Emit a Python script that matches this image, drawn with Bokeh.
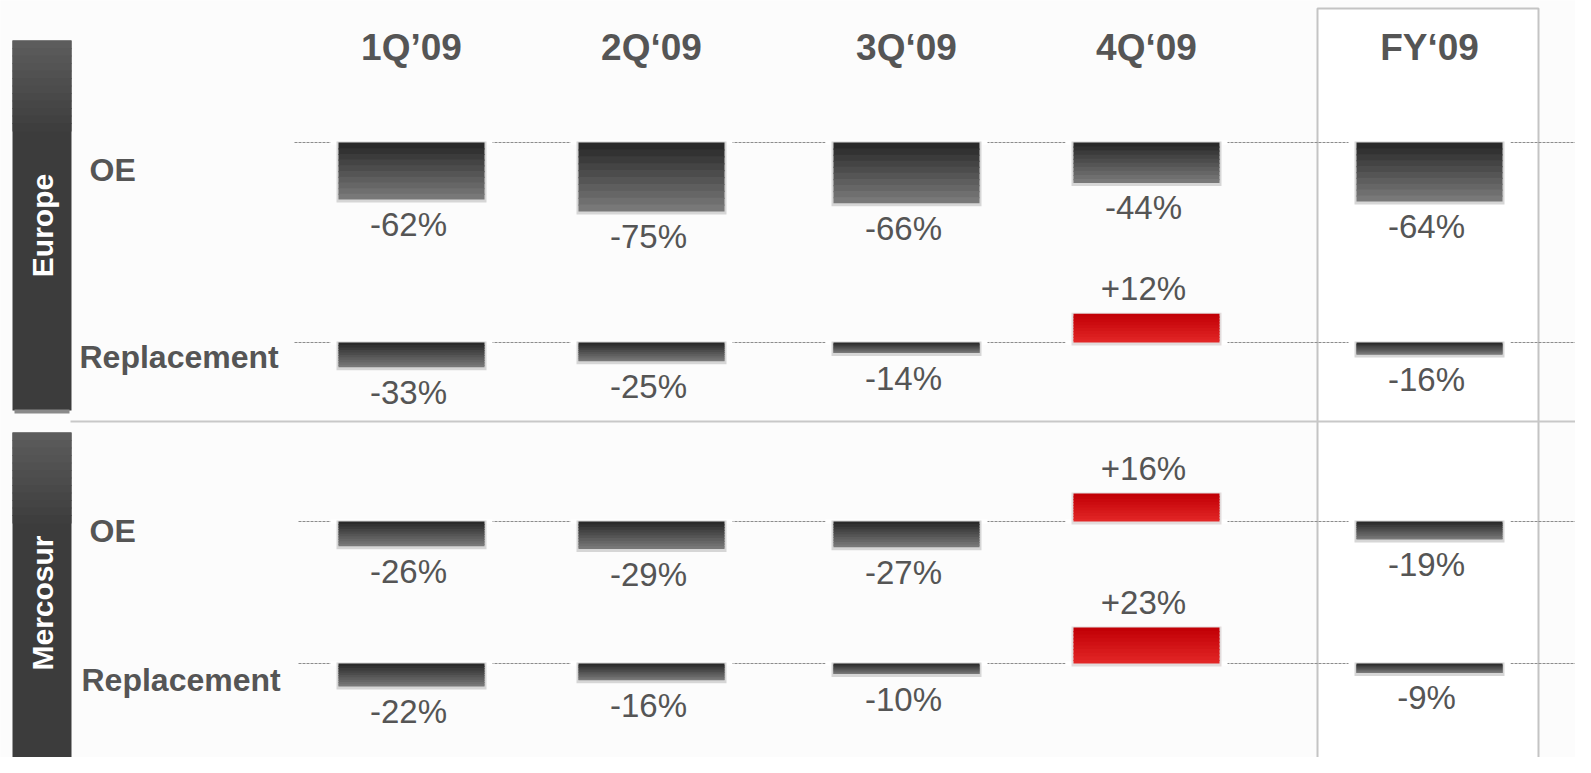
from bokeh.plotting import figure
from bokeh.models import Range1d, ColumnDataSource
from bokeh.embed import file_html
from bokeh.resources import INLINE
from bokeh.core.properties import value

# ---------------- data ----------------
periods = ["1Q’09", "2Q‘09", "3Q‘09", "4Q‘09", "FY‘09"]
regions = ["Europe", "Mercosur"]
segments = ["OE", "Replacement"]
europe_oe = [-62, -75, -66, -44, -64]
europe_rep = [-33, -25, -14, 12, -16]
mercosur_oe = [-26, -29, -27, 16, -19]
mercosur_rep = [-22, -16, -10, 23, -9]

# ---------------- layout (screen px) ----------------
W, H = 1575, 757
col_x = [411, 651, 906, 1146, 1429]
bar_w = 146
rows = [
    # (values, baseline y, neg px per %, pos px per %, label y, label x, line start)
    (europe_oe, 142, 0.92, 2.0, 169, 89, 294),
    (europe_rep, 342, 0.75, 2.4, 356, 79, 294),
    (mercosur_oe, 521, 0.95, 1.75, 530, 89, 298),
    (mercosur_rep, 663, 1.05, 1.57, 679, 81, 298),
]

p = figure(width=W, height=H, output_backend="svg", toolbar_location=None,
           x_range=Range1d(0, W), y_range=Range1d(H, 0),
           min_border=0, background_fill_color="#fcfcfc", border_fill_color="#fcfcfc")
p.axis.visible = False
p.grid.visible = False
p.outline_line_color = None

# FY box
p.quad(left=[1317], right=[1538], top=[8], bottom=[763], fill_color="white",
       line_color="#c4c4c4", line_width=2)

# region bands
bands = [(40, 410, "Europe"), (432, 790, "Mercosur")]
for top, bot, name in bands:
    n = 12
    hgt = 90
    p.quad(left=[12], right=[71], top=[top], bottom=[bot], fill_color="#3c3c3c", line_color=None)
    for i in range(n):
        c = int(0x5c - (0x5c - 0x3c) * i / n)
        col = "#%02x%02x%02x" % (c, c, c)
        p.quad(left=[12], right=[71], top=[top + hgt * i / n], bottom=[top + hgt * (i + 1) / n + 1],
               fill_color=col, line_color=None)
    p.text(x=[42], y=[(top + min(bot, 773)) / 2], text=[name], angle=1.5708,
           text_align="center", text_baseline="middle", text_color="white",
           text_font=value("Liberation Sans"), text_font_style="bold", text_font_size="30px")
p.quad(left=[14], right=[69], top=[409], bottom=[413], fill_color="#8a8a8a", line_color=None)

# separator between regions
p.segment(x0=[70], x1=[W], y0=[421], y1=[421], line_color="#c8c8c8", line_width=2)

# column headers
p.text(x=col_x, y=[47] * 5, text=periods, text_align="center", text_baseline="middle",
       text_color="#555555", text_font=value("Liberation Sans"), text_font_style="bold",
       text_font_size="37px")

def lerp(c1, c2, t):
    return "#%02x%02x%02x" % tuple(int(a + (b - a) * t) for a, b in zip(c1, c2))

for r, (vals, base, sneg, spos, ly, lx, lstart) in enumerate(rows):
    # row label
    p.text(x=[lx], y=[ly], text=[segments[r % 2]], text_align="left", text_baseline="middle",
           text_color="#555555", text_font=value("Liberation Sans"), text_font_style="bold",
           text_font_size="32px")
    # dashed baseline
    p.segment(x0=[lstart], x1=[W], y0=[base], y1=[base], line_color="#8c8c8c",
              line_width=1, line_dash="3 1")
    for cx, v in zip(col_x, vals):
        hpx = abs(v) * (spos if v > 0 else sneg)
        if v < 0:
            y0, y1 = base, base + hpx
            ctop, cbot = (0x2a, 0x2a, 0x2a), (0x78, 0x78, 0x78)
            halo = "#d6d6d6"
            txt = "%d%%" % v
            ty = y1 + 25
        else:
            y0, y1 = base - hpx, base
            ctop, cbot = (0xc2, 0x00, 0x06), (0xe2, 0x26, 0x26)
            halo = "#e2dcdc"
            txt = "+%d%%" % v
            ty = y0 - 25
        # white gap in the dashed line
        p.quad(left=[cx - bar_w / 2 - 8], right=[cx + bar_w / 2 + 8], top=[base - 2], bottom=[base + 2],
               fill_color="white", line_color=None)
        # halo
        p.quad(left=[cx - bar_w / 2 - 2], right=[cx + bar_w / 2 + 2], top=[y0 - 1], bottom=[y1 + 3],
               fill_color=halo, line_color=None)
        # gradient strips
        n = 10
        lefts, rights, tops, bots, cols = [], [], [], [], []
        for i in range(n):
            lefts.append(cx - bar_w / 2)
            rights.append(cx + bar_w / 2)
            tops.append(y0 + (y1 - y0) * i / n)
            bots.append(min(y1, y0 + (y1 - y0) * (i + 1) / n + 1.2))
            cols.append(lerp(ctop, cbot, i / (n - 1)))
        p.quad(source=ColumnDataSource(dict(l=lefts, r=rights, t=tops, b=bots, c=cols)),
               left="l", right="r", top="t", bottom="b", fill_color="c", line_color=None)
        p.text(x=[cx - 3], y=[ty], text=[txt], text_align="center", text_baseline="middle",
               text_color="#555555", text_font=value("Liberation Sans"), text_font_size="33px")

open("out.html", "w").write(file_html(p, INLINE))
